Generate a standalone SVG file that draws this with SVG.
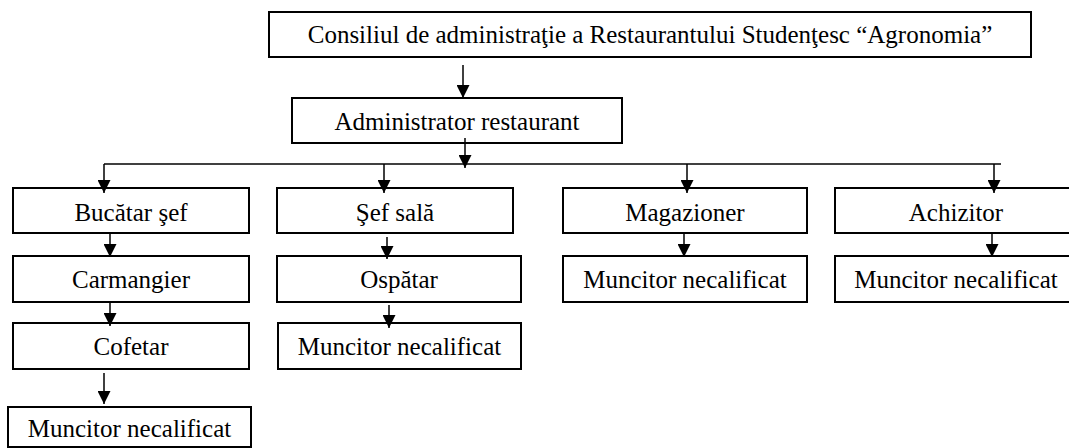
<svg xmlns="http://www.w3.org/2000/svg" width="1069" height="448" viewBox="0 0 1069 448">
<defs>
<style>
.box{fill:#fff;stroke:#000;stroke-width:2}
.lbl{font-family:"Liberation Serif","Times New Roman",serif;font-size:25px;fill:#000;text-anchor:middle}
.con{fill:none;stroke:#000;stroke-width:1.5}
</style>
<marker id="ah" markerUnits="userSpaceOnUse" markerWidth="13" markerHeight="13" refX="13" refY="6.5" orient="auto" viewBox="0 0 13 13">
<path d="M0,0 L13,6.5 L0,13 z" fill="#000"/>
</marker>
</defs>
<g id="n-consiliu"><rect class="box" x="269" y="12" width="762" height="45"/><text class="lbl" x="650" y="43">Consiliul de administraţie a Restaurantului Studenţesc “Agronomia”</text></g>
<g id="n-admin"><rect class="box" x="292" y="98" width="330" height="45"/><text class="lbl" x="457" y="130">Administrator restaurant</text></g>
<g id="n-bucatar"><rect class="box" x="13" y="188" width="236" height="45"/><text class="lbl" x="131" y="221">Bucătar şef</text></g>
<g id="n-carmangier"><rect class="box" x="13" y="256" width="236" height="46"/><text class="lbl" x="131" y="288">Carmangier</text></g>
<g id="n-cofetar"><rect class="box" x="13" y="323" width="236" height="46"/><text class="lbl" x="131" y="355">Cofetar</text></g>
<g id="n-muncitor1"><rect class="box" x="8" y="407" width="243" height="40"/><text class="lbl" x="129.5" y="437">Muncitor necalificat</text></g>
<g id="n-sefsala"><rect class="box" x="277" y="188" width="236" height="45"/><text class="lbl" x="395" y="221">Şef sală</text></g>
<g id="n-ospatar"><rect class="box" x="277" y="256" width="244" height="46"/><text class="lbl" x="399" y="288">Ospătar</text></g>
<g id="n-muncitor2"><rect class="box" x="278" y="323" width="243" height="46"/><text class="lbl" x="399.5" y="355">Muncitor necalificat</text></g>
<g id="n-magazioner"><rect class="box" x="563" y="188" width="244" height="45"/><text class="lbl" x="685" y="221">Magazioner</text></g>
<g id="n-muncitor3"><rect class="box" x="563" y="256" width="244" height="46"/><text class="lbl" x="685" y="288">Muncitor necalificat</text></g>
<g id="n-achizitor"><rect class="box" x="835" y="188" width="242" height="45"/><text class="lbl" x="956" y="221">Achizitor</text></g>
<g id="n-muncitor4"><rect class="box" x="835" y="256" width="242" height="46"/><text class="lbl" x="956" y="288">Muncitor necalificat</text></g>
<g id="connectors">
<line class="con" x1="463" y1="65" x2="463" y2="98" marker-end="url(#ah)"/>
<line class="con" x1="465" y1="138" x2="465" y2="168" marker-end="url(#ah)"/>
<line class="con" x1="104" y1="164" x2="1001" y2="164"/>
<line class="con" x1="104" y1="164" x2="104" y2="193" marker-end="url(#ah)"/>
<line class="con" x1="384" y1="164" x2="384" y2="193" marker-end="url(#ah)"/>
<line class="con" x1="687" y1="164" x2="687" y2="193" marker-end="url(#ah)"/>
<line class="con" x1="994" y1="164" x2="994" y2="193" marker-end="url(#ah)"/>
<line class="con" x1="110" y1="233" x2="110" y2="257" marker-end="url(#ah)"/>
<line class="con" x1="110" y1="302" x2="110" y2="326" marker-end="url(#ah)"/>
<line class="con" x1="104" y1="373" x2="104" y2="404" marker-end="url(#ah)"/>
<line class="con" x1="387" y1="237" x2="387" y2="259" marker-end="url(#ah)"/>
<line class="con" x1="389" y1="305" x2="389" y2="328" marker-end="url(#ah)"/>
<line class="con" x1="684" y1="233" x2="684" y2="257" marker-end="url(#ah)"/>
<line class="con" x1="992" y1="232" x2="992" y2="257" marker-end="url(#ah)"/>
</g>
</svg>
